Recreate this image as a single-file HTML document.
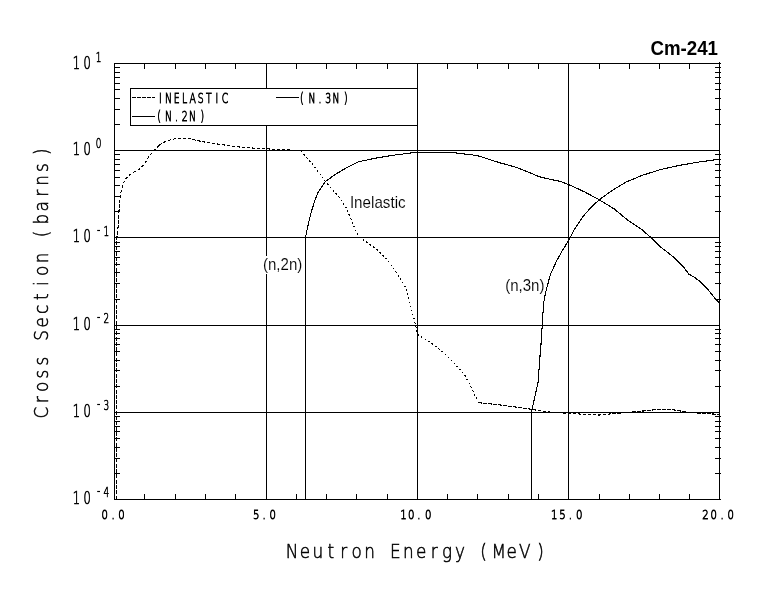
<!DOCTYPE html>
<html lang="en"><head><meta charset="utf-8"><title>Cm-241 neutron cross sections</title>
<style>
html,body{margin:0;padding:0;background:#fff;}
body{width:780px;height:590px;overflow:hidden;}
svg{display:block;}
.ax{stroke:#000;stroke-width:1;fill:none;shape-rendering:crispEdges;}
.cv{stroke:#000;stroke-width:1.1;fill:none;shape-rendering:crispEdges;stroke-linejoin:round;}
.st{font-family:"DejaVu Sans Light", "DejaVu Sans", "Liberation Sans", sans-serif;font-weight:200;fill:#000;stroke:#000;vector-effect:non-scaling-stroke;text-anchor:middle;}
.an{font-family:"Liberation Sans",sans-serif;fill:#000;stroke:#fff;stroke-width:0.12px;}
.ti{font-family:"Liberation Sans",sans-serif;fill:#000;font-weight:bold;}
</style></head><body>
<svg width="780" height="590" viewBox="0 0 780 590">
<rect x="0" y="0" width="780" height="590" fill="#fff"/>
<path class="ax" d="M114 150.5H720M114 237.5H720M114 325.5H720M114 412.5H720M266.5 63V500M417.5 63V500M568.5 63V500M305.5 237V500M531.5 412V500"/>
<path class="ax" d="M114.5 63V500 M719.5 62V500 M114 63.5H721 M114 499.5H721"/>
<path class="ax" d="M144.5 63V69M144.5 494V500M175.5 63V69M175.5 494V500M205.5 63V69M205.5 494V500M235.5 63V69M235.5 494V500M266.5 63V69M266.5 494V500M296.5 63V69M296.5 494V500M326.5 63V69M326.5 494V500M356.5 63V69M356.5 494V500M387.5 63V69M387.5 494V500M417.5 63V69M417.5 494V500M447.5 63V69M447.5 494V500M477.5 63V69M477.5 494V500M508.5 63V69M508.5 494V500M538.5 63V69M538.5 494V500M568.5 63V69M568.5 494V500M599.5 63V69M599.5 494V500M629.5 63V69M629.5 494V500M659.5 63V69M659.5 494V500M689.5 63V69M689.5 494V500M114 124.5H120M715 124.5H721M114 109.5H120M715 109.5H721M114 98.5H120M715 98.5H721M114 89.5H120M715 89.5H721M114 83.5H120M715 83.5H721M114 77.5H120M715 77.5H721M114 72.5H120M715 72.5H721M114 67.5H120M715 67.5H721M114 211.5H120M715 211.5H721M114 196.5H120M715 196.5H721M114 185.5H120M715 185.5H721M114 177.5H120M715 177.5H721M114 170.5H120M715 170.5H721M114 164.5H120M715 164.5H721M114 159.5H120M715 159.5H721M114 154.5H120M715 154.5H721M114 299.5H120M715 299.5H721M114 283.5H120M715 283.5H721M114 272.5H120M715 272.5H721M114 264.5H120M715 264.5H721M114 257.5H120M715 257.5H721M114 251.5H120M715 251.5H721M114 246.5H120M715 246.5H721M114 242.5H120M715 242.5H721M114 386.5H120M715 386.5H721M114 370.5H120M715 370.5H721M114 360.5H120M715 360.5H721M114 351.5H120M715 351.5H721M114 344.5H120M715 344.5H721M114 338.5H120M715 338.5H721M114 333.5H120M715 333.5H721M114 329.5H120M715 329.5H721M114 473.5H120M715 473.5H721M114 458.5H120M715 458.5H721M114 447.5H120M715 447.5H721M114 438.5H120M715 438.5H721M114 431.5H120M715 431.5H721M114 426.5H120M715 426.5H721M114 421.5H120M715 421.5H721M114 416.5H120M715 416.5H721"/>
<polyline class="cv" stroke-dasharray="4 1.3" points="116.5,499.5 116.5,245.0 117.0,236.5 117.5,232.0 118.0,227.8 118.5,220.0 119.0,210.5 119.5,203.0"/>
<polyline class="cv" stroke-dasharray="3 2" points="119.5,203.0 120.4,196.9 121.0,192.0 122.6,187.2 123.8,182.5 126.4,178.0 129.5,175.1 133.6,172.3 138.2,170.0 142.8,165.9 146.9,160.3 149.5,155.6 154.1,150.5 159.2,145.4"/>
<polyline class="cv" stroke-dasharray="3.3 1.7" points="159.2,145.4 163.3,142.5 169.5,140.1 176.7,138.4 189.5,138.4 192.5,139.4 197.0,140.5 202.0,141.5 206.7,142.5 213.0,143.4 221.0,144.5 227.5,145.5 233.5,146.5 245.5,147.5 259.5,148.5 281.0,149.5 296.0,150.3 301.0,150.8"/>
<polyline class="cv" stroke-dasharray="1.8 2.4" points="301.0,150.8 311.3,162.8 321.5,176.2 327.7,184.4 337.9,195.6 346.2,207.9 352.3,222.3 357.4,234.6 359.5,237.4 366.7,242.3 376.9,249.5 387.2,259.7 395.4,271.0 404.6,285.4 408.7,297.7 411.8,310.0 414.9,322.3 416.3,328.5 417.6,334.4 430.5,342.6 442.8,351.8 454.1,363.1 464.4,374.4 471.5,387.7 478.3,402.7"/>
<polyline class="cv" stroke-dasharray="3.6 1.4" points="478.3,402.7 496.2,404.5 516.7,407.2 531.0,409.2 545.4,411.7 556.0,412.6 568.5,413.3 575.0,413.6 581.0,414.2 590.0,414.6 599.0,415.0 605.0,414.6 609.5,414.0 620.0,413.3 628.0,412.5 635.0,411.8 643.0,411.0 650.0,410.3 656.0,409.7 664.5,409.3 673.0,409.7 677.0,410.4 682.0,411.3 688.0,412.2 695.0,412.9 705.0,413.5 713.0,414.0 719.5,414.4"/>
<polyline class="cv" points="305.5,237.5 308.2,224.4 311.3,212.0 314.4,201.8 318.5,191.5 325.6,181.3 335.9,174.1 346.2,167.9 358.5,161.8 374.9,158.3 380.0,157.5 385.5,156.5 391.0,155.5 399.0,154.5 407.0,153.5 414.0,152.6 433.0,152.4 453.0,152.6 460.0,153.5 469.5,154.5 477.0,155.6 482.0,157.0 498.5,162.4 514.9,166.9 527.2,171.6 539.5,176.8 549.7,179.2 560.0,181.3 568.5,184.5 584.6,191.9 599.6,200.0 614.6,209.2 628.5,220.8 642.3,230.0 651.5,238.1 660.5,247.0 668.2,252.8 675.9,259.2 683.6,266.9 688.7,274.0 695.1,277.8 700.3,281.7 706.7,288.1 711.8,294.5 715.6,299.0 719.5,302.8"/>
<polyline class="cv" points="531.5,412.3 532.7,406.2 538.2,381.5 539.6,361.0 541.3,340.5 542.2,325.6 542.6,320.0 543.5,303.8 545.4,293.6 548.0,283.3 550.5,274.4 556.3,261.5 562.7,250.0 568.6,240.5 573.3,231.3 582.3,217.3 591.5,206.9 599.6,199.5 612.3,190.3 626.2,182.0 642.3,175.3 660.8,169.5 679.2,165.4 697.7,162.2 719.6,159.2"/>
<rect class="ax" x="130.5" y="88.5" width="287" height="37" style="fill:#fff"/>
<path class="ax" d="M132 97.5H155" stroke-dasharray="4 1"/>
<path class="ax" d="M132 116.5H155 M276 97.5H299"/>
<text class="st" transform="translate(0,102.70) scale(0.6600,1)" font-size="14.13" stroke-width="0.70" x="243.18 255.38 267.58 279.77 291.97 304.17 316.36 328.56 340.76" y="0.00 0.00 0.00 0.00 0.00 0.00 0.00 0.00 0.00">INELASTIC</text>
<text class="st" transform="translate(0,120.70) scale(0.6600,1)" font-size="14.13" stroke-width="0.70" x="240.91 255.45 267.42 279.70 291.67 306.36" y="0.00 0.00 0.00 0.00 0.00 0.00">(N.2N)</text>
<text class="st" transform="translate(0,102.70) scale(0.6600,1)" font-size="14.13" stroke-width="0.70" x="457.27 472.73 484.85 497.27 509.24 524.09" y="0.00 0.00 0.00 0.00 0.00 0.00">(N.3N)</text>
<text class="st" transform="translate(0,518.60) scale(0.8000,1)" font-size="12.62" stroke-width="0.70" x="131.00 141.25 151.88" y="0.00 0.00 0.00">0.0</text>
<text class="st" transform="translate(0,518.60) scale(0.8000,1)" font-size="12.62" stroke-width="0.70" x="320.38 330.25 340.87" y="0.00 0.00 0.00">5.0</text>
<text class="st" transform="translate(0,518.60) scale(0.8000,1)" font-size="12.62" stroke-width="0.70" x="504.25 514.00 523.62 535.25" y="0.00 0.00 0.00 0.00">10.0</text>
<text class="st" transform="translate(0,518.60) scale(0.8000,1)" font-size="12.62" stroke-width="0.70" x="692.87 703.00 713.12 724.00" y="0.00 0.00 0.00 0.00">15.0</text>
<text class="st" transform="translate(0,518.60) scale(0.8000,1)" font-size="12.62" stroke-width="0.70" x="881.75 892.00 902.50 913.25" y="0.00 0.00 0.00 0.00">20.0</text>
<text class="st" transform="translate(0,68.50) scale(0.6800,1)" font-size="16.87" stroke-width="0.6" x="112.50 128.09 145.00" y="0.00 0.00 -6.90">10<tspan font-size="13.17">1</tspan></text>
<text class="st" transform="translate(0,155.30) scale(0.6800,1)" font-size="16.87" stroke-width="0.6" x="112.50 128.09 145.00" y="0.00 0.00 -6.90">10<tspan font-size="13.17">0</tspan></text>
<text class="st" transform="translate(0,242.40) scale(0.6800,1)" font-size="16.87" stroke-width="0.6" x="112.50 128.09 145.00 156.47" y="0.00 0.00 -8.90 -6.90">10<tspan font-size="13.17">-1</tspan></text>
<text class="st" transform="translate(0,329.50) scale(0.6800,1)" font-size="16.87" stroke-width="0.6" x="112.50 128.09 145.00 156.47" y="0.00 0.00 -8.90 -6.90">10<tspan font-size="13.17">-2</tspan></text>
<text class="st" transform="translate(0,416.60) scale(0.6800,1)" font-size="16.87" stroke-width="0.6" x="112.50 128.09 145.00 156.47" y="0.00 0.00 -8.90 -6.90">10<tspan font-size="13.17">-3</tspan></text>
<text class="st" transform="translate(0,503.50) scale(0.6800,1)" font-size="16.87" stroke-width="0.6" x="112.50 128.09 145.00 156.47" y="0.00 0.00 -8.90 -6.90">10<tspan font-size="13.17">-4</tspan></text>
<text class="st" transform="translate(0,557.80) scale(0.8300,1)" font-size="20.30" stroke-width="0.50" x="351.81 367.39 382.96 398.54 414.12 429.70 445.28 460.86 476.43 492.01 507.59 523.17 538.75 554.33 569.90 582.53 601.06 616.64 632.22 651.33" y="0.00 0.00 0.00 0.00 0.00 0.00 0.00 0.00 0.00 0.00 0.00 0.00 0.00 0.00 0.00 0.00 0.00 0.00 0.00 0.00">Neutron Energy (MeV)</text>
<text class="st" transform="translate(47.70,0) rotate(-90) scale(0.8300,1)" font-size="20.30" stroke-width="0.50" x="-497.23 -481.69 -466.14 -450.60 -435.06 -419.52 -403.98 -388.43 -372.89 -357.35 -341.81 -326.27 -310.72 -295.18 -281.93 -264.10 -248.55 -233.01 -217.47 -201.93 -182.89" y="0.00 0.00 0.00 0.00 0.00 0.00 0.00 0.00 0.00 0.00 0.00 0.00 0.00 0.00 0.00 0.00 0.00 0.00 0.00 0.00 0.00">Cross Section (barns)</text>
<path fill="#fff" d="M263 256h40v18h-40z M350 194h56v18h-56z M505 277.5h39v18h-39z"/>
<text class="ti" transform="translate(718.00,55.20) scale(0.9350,1)" font-size="20.00" text-anchor="end">Cm-241</text>
<text class="an" transform="translate(349.90,207.60) scale(0.9500,1)" font-size="16.00" text-anchor="start">Inelastic</text>
<text class="an" transform="translate(263.00,269.50) scale(0.9400,1)" font-size="16.00" text-anchor="start">(n,2n)</text>
<text class="an" transform="translate(505.20,290.80) scale(0.9400,1)" font-size="16.00" text-anchor="start">(n,3n)</text>
</svg></body></html>
